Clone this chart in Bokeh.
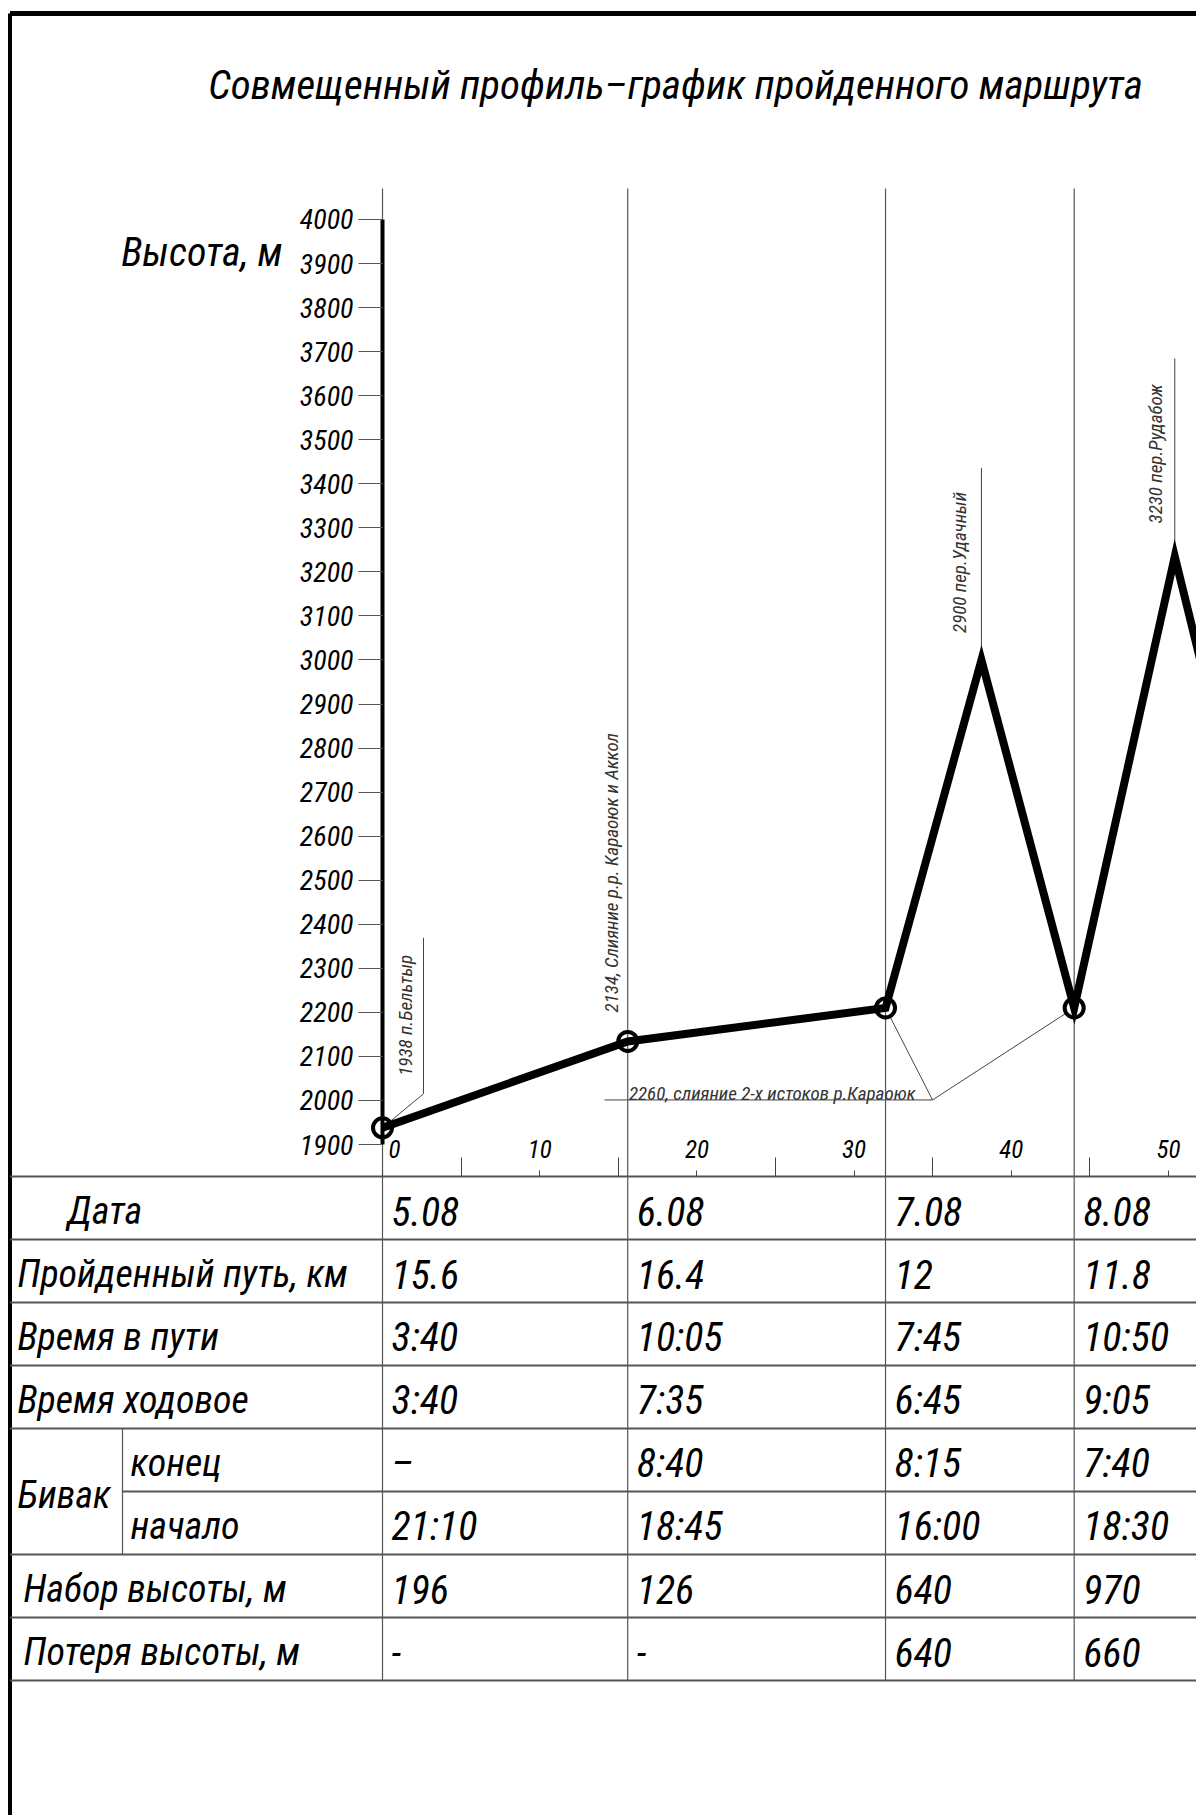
import numpy as np
from bokeh.plotting import figure
from bokeh.models import Range1d, LinearAxis, FixedTicker
from bokeh.core.properties import value
from bokeh.embed import file_html
from bokeh.resources import INLINE

# ---------------- data ----------------
title_text = "Совмещенный профиль–график пройденного маршрута"
elev_axis_label = "Высота, м"
elev_ticks = list(range(1900, 4001, 100))
km_major_ticks = [0, 10, 20, 30, 40, 50]
km_minor_ticks = [5, 15, 25, 35, 45]

profile_km = [0.0, 15.6, 32.0, 38.1, 44.0, 50.4, 55.8]
profile_elev = [1938, 2134, 2210, 3000, 2210, 3235, 2450]
camp_idx = [0, 1, 2, 4]

point_names = ["1938 п.Бельтыр",
               "2134, Слияние р.р. Караоюк и Аккол",
               "2900 пер.Удачный",
               "3230 пер.Рудабож"]
point_name_idx = [0, 1, 3, 5]
shared_name = "2260, слияние 2-х истоков р.Караоюк"
shared_name_idx = [2, 4]

day_km = [15.6, 16.4, 12.0, 11.8]
row_labels = ["Дата", "Пройденный путь, км", "Время в пути", "Время ходовое",
              "конец", "начало", "Набор высоты, м", "Потеря высоты, м"]
group_label = "Бивак"
dates = ["5.08", "6.08", "7.08", "8.08"]
distance_txt = ["15.6", "16.4", "12", "11.8"]
time_total = ["3:40", "10:05", "7:45", "10:50"]
time_moving = ["3:40", "7:35", "6:45", "9:05"]
camp_end = ["–", "8:40", "8:15", "7:40"]
camp_start = ["21:10", "18:45", "16:00", "18:30"]
gain = ["196", "126", "640", "970"]
loss = ["-", "-", "640", "660"]
table_rows = [dates, distance_txt, time_total, time_moving, camp_end, camp_start, gain, loss]

# ---------------- layout ----------------
FONT = "Roboto Condensed"
W, H = 1196, 1815
OX = OY = 0
X0, KM_PX = 382.0, 15.72      # page x of 0 km, px per km
Y0, M_PX = 1144.0, 0.4405     # page y of 1900 m, px per m


def to_px(km):
    return X0 + KM_PX * km


def to_py(m):
    return Y0 - M_PX * (m - 1900)


def km_at(px):
    return (px - X0) / KM_PX


def m_at(py):
    return 1900 + (Y0 - py) / M_PX


p = figure(width=W, height=H,
           x_range=Range1d(km_at(OX), km_at(OX + W)),
           y_range=Range1d(m_at(OY + H), m_at(OY)),
           x_axis_type=None, y_axis_type=None,
           toolbar_location=None, output_backend="svg",
           min_border=0, outline_line_color=None)
p.extra_x_ranges = {"px": Range1d(OX, OX + W)}
p.extra_y_ranges = {"py": Range1d(OY + H, OY)}

PG = dict(x_range_name="px", y_range_name="py")
KMPY = dict(x_range_name="default", y_range_name="py")


def style(size, color="black", align="left", baseline="middle", font=FONT, **kw):
    d = dict(text_font=value(font), text_font_style="italic", text_font_size=size,
             text_color=color, text_align=align, text_baseline=baseline)
    d.update(kw)
    return d


# frame border
p.segment(x0=[9.5], y0=[13], x1=[OX + W], y1=[13], line_color="black", line_width=5, **PG)
p.segment(x0=[9.5], y0=[13], x1=[9.5], y1=[OY + H], line_color="black", line_width=4, **PG)

# title and axis caption
p.text(x=[675], y=[84], text=[title_text], **style("41px", align="center"), **PG)
p.text(x=[282], y=[252], text=[elev_axis_label], **style("40px", align="right"), **PG)

# table geometry
TOP, ROW = 1176.0, 63.0
n_rows = len(row_labels)
bounds_km = list(np.concatenate([[0.0], np.cumsum(day_km)]))

# vertical day lines (from top of chart down through table)
p.segment(x0=bounds_km, y0=[188] * len(bounds_km), x1=bounds_km,
          y1=[TOP + ROW * n_rows] * len(bounds_km),
          line_color="#555555", line_width=1.2, **KMPY)

# horizontal table lines
hy = [TOP + ROW * i for i in range(n_rows + 1)]
hx0 = [9.5 if i != 5 else 122 for i in range(n_rows + 1)]
p.segment(x0=hx0, y0=hy, x1=[OX + W] * len(hy), y1=hy,
          line_color="#555555", line_width=2, **PG)
# Бивак inner divider
p.segment(x0=[122], y0=[TOP + ROW * 4], x1=[122], y1=[TOP + ROW * 6],
          line_color="#555555", line_width=1.2, **PG)

# row labels
label_x = [67, 17, 17, 17, 130, 130, 23, 23]
label_y = [TOP + ROW * (i + 0.5) + 3 for i in range(n_rows)]
p.text(x=label_x, y=label_y, text=row_labels, **style("38px"), **PG)
p.text(x=[17], y=[TOP + ROW * 5 + 3], text=[group_label], **style("38px"), **PG)

# table values
vx, vy, vt = [], [], []
for i, row in enumerate(table_rows):
    for j, t in enumerate(row):
        vx.append(bounds_km[j])
        vy.append(TOP + ROW * (i + 0.5) + 3)
        vt.append(t)
p.text(x=vx, y=vy, text=vt, x_offset=9, **style("40px"), **KMPY)

# ---------------- profile ----------------
pxs = [to_px(k) for k in profile_km]
pys = [to_py(e) for e in profile_elev]
R = 10.0  # circle radius for leader ends


def toward(i, tx, ty):
    dx, dy = tx - pxs[i], ty - pys[i]
    d = np.hypot(dx, dy)
    return pxs[i] + R * dx / d, pys[i] + R * dy / d


# leaders
lead_x0, lead_y0, lead_x1, lead_y1 = [], [], [], []
i0 = point_name_idx[0]
vx1, vtop, vbot = pxs[i0] + 41, pys[i0] - 190, pys[i0] - 34
ex, ey = toward(i0, vx1, vbot)
lead_x0 += [vx1, vx1]
lead_y0 += [vtop, vbot]
lead_x1 += [vx1, ex]
lead_y1 += [vbot, ey]
for k, up in zip(point_name_idx[2:], [192, 198]):
    lead_x0.append(pxs[k]); lead_y0.append(pys[k])
    lead_x1.append(pxs[k]); lead_y1.append(pys[k] - up)
ia = shared_name_idx[0]
jx, jy = pxs[ia] + 47, pys[ia] + 92
lead_x0.append(jx - 328); lead_y0.append(jy); lead_x1.append(jx); lead_y1.append(jy)
for k in shared_name_idx:
    ex, ey = toward(k, jx, jy)
    lead_x0.append(jx); lead_y0.append(jy); lead_x1.append(ex); lead_y1.append(ey)
p.segment(x0=lead_x0, y0=lead_y0, x1=lead_x1, y1=lead_y1,
          line_color="#444444", line_width=1, **PG)

name_dx = [34, -5, -10, -8]
name_dy = [-52, -29, -27, -33]
nx = [pxs[k] + d for k, d in zip(point_name_idx, name_dx)]
ny = [pys[k] + d for k, d in zip(point_name_idx, name_dy)]
p.text(x=nx, y=ny, text=point_names, angle=np.pi / 2,
       **style("19px", color="#333333", baseline="bottom"), **PG)
p.text(x=[jx - 17], y=[jy - 6], text=[shared_name],
       **style("19px", color="#333333", align="right", baseline="alphabetic"), **PG)

p.line(profile_km, profile_elev, line_color="black", line_width=8, line_join="miter")
p.scatter([profile_km[i] for i in camp_idx], [profile_elev[i] for i in camp_idx],
          marker="circle", size=19, fill_color=None, line_color="black", line_width=4)

# ---------------- axes ----------------
yax = LinearAxis(ticker=FixedTicker(ticks=elev_ticks), fixed_location=0,
                 bounds=(1900, 4000))
yax.axis_line_color = "black"
yax.axis_line_width = 4
yax.major_tick_in = 0
yax.major_tick_out = 24
yax.major_tick_line_color = "#555555"
yax.major_tick_line_width = 1
yax.minor_tick_line_color = None
yax.major_label_standoff = 5
yax.major_label_text_font = FONT
yax.major_label_text_font_style = "italic"
yax.major_label_text_font_size = "28px"
yax.major_label_text_color = "black"
p.add_layout(yax, "left")

xax = LinearAxis(ticker=FixedTicker(ticks=km_major_ticks), fixed_location=TOP,
                 y_range_name="py")
xax.axis_line_color = None
xax.major_tick_in = 0
xax.major_tick_out = 6
xax.major_tick_line_color = "#444444"
xax.minor_tick_line_color = None
xax.major_label_standoff = 7
xax.major_label_text_font = FONT
xax.major_label_text_font_style = "italic"
xax.major_label_text_font_size = "25px"
xax.major_label_text_color = "black"
xax.major_label_overrides = {0: "\u2007\u20070"}
p.add_layout(xax, "above")

xmin = LinearAxis(ticker=FixedTicker(ticks=km_minor_ticks), fixed_location=TOP,
                  y_range_name="py")
xmin.axis_line_color = None
xmin.major_tick_in = 0
xmin.major_tick_out = 19
xmin.major_tick_line_color = "#444444"
xmin.minor_tick_line_color = None
xmin.major_label_text_color = None
p.add_layout(xmin, "above")

open("out.html", "w").write(file_html(p, INLINE))
